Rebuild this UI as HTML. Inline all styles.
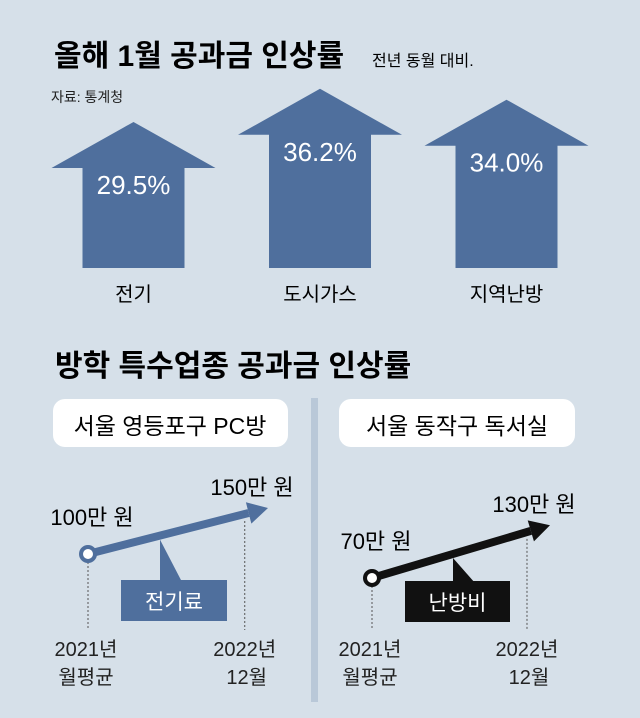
<!DOCTYPE html>
<html><head><meta charset="utf-8"><style>
html,body{margin:0;padding:0}
body{width:640px;height:713px;background:#d6e0e9;position:relative;overflow:hidden;font-family:"Liberation Sans","Noto Sans CJK KR",sans-serif;color:#111}
svg text{font-family:"Liberation Sans","Noto Sans CJK KR",sans-serif}
</style></head><body>
<svg width="640" height="713">
<rect x="0" y="0" width="640" height="713" fill="#d6e0e9"/>
<text x="54" y="66" font-size="30" font-weight="bold">올해 1월 공과금 인상률</text>
<text x="372" y="66" font-size="16">전년 동월 대비.</text>
<text x="51" y="102" font-size="14" fill="#222">자료: 통계청</text>
<g id="arrows"></g>
<text x="55" y="376" font-size="30" font-weight="bold">방학 특수업종 공과금 인상률</text>
<rect x="311" y="398" width="7" height="304" fill="#b9c8d8"/>
<rect x="53" y="399" width="235" height="48" rx="12" fill="#fff"/>
<text x="170" y="434" font-size="23" text-anchor="middle">서울 영등포구 PC방</text>
<rect x="339" y="399" width="236" height="48" rx="12" fill="#fff"/>
<text x="457" y="434" font-size="23" text-anchor="middle">서울 동작구 독서실</text>
<g id="panels"></g>
</svg>
<script>
const NS='http://www.w3.org/2000/svg';
const categories=['전기','도시가스','지역난방'];
const rates=[29.5,36.2,34.0];
const rateLabels=['29.5%','36.2%','34.0%'];
const panelNames=['pc-room','study-room'];
const startValues=[100,70];
const endValues=[150,130];
const startLabels=['100만 원','70만 원'];
const endLabels=['150만 원','130만 원'];
const itemLabels=['전기료','난방비'];
const xTicks=['2021년','2022년'];
const xSub=['월평균','12월'];
function mk(tag,attrs,parent,text){const e=document.createElementNS(NS,tag);for(const k in attrs)e.setAttribute(k,attrs[k]);if(text!=null)e.textContent=text;parent.appendChild(e);return e;}
// arrow chart
const ag=document.getElementById('arrows');
const bottomY=268, pxPer=4.95;
const yRate=v=>bottomY-v*pxPer;
const centers=[133.5,320,506.5];
categories.forEach((c,i)=>{
  const cx=centers[i], tip=yRate(rates[i]), base=tip+46;
  const p=mk('polygon',{points:`${cx},${tip} ${cx+82},${base} ${cx+51},${base} ${cx+51},${bottomY} ${cx-51},${bottomY} ${cx-51},${base} ${cx-82},${base}`,fill:'#4f6f9d'},ag);
  
  
  const t=mk('text',{x:cx,y:base+26,'font-size':26,fill:'#fff','text-anchor':'middle'},ag,rateLabels[i]);
  
  
  const l=mk('text',{x:cx,y:301,'font-size':20,'text-anchor':'middle'},ag,c);
  
  
});
// panels
const pg=document.getElementById('panels');
const cfg=[{x0:88,x1:268,y0:554,k:0.92,col:'#4f6f9d',box:[121,580,106,41],ptr:160},
           {x0:372,x1:550,y0:578,k:0.88,col:'#111',box:[405,581,105,41],ptr:453}];
cfg.forEach((c,i)=>{
  const ys=c.y0, ye=c.y0-(endValues[i]-startValues[i])*c.k;
  const dx=c.x1-c.x0, dy=ye-ys, len=Math.hypot(dx,dy), ux=dx/len, uy=dy/len;
  const hx=c.x1-ux*20, hy=ye-uy*20;
  const d1=mk('line',{x1:c.x0,y1:ys+8,x2:c.x0,y2:630,stroke:'#555','stroke-dasharray':'2,2'},pg);
  
  
  const d2=mk('line',{x1:hx-ux*4,y1:hy+8,x2:hx-ux*4,y2:630,stroke:'#555','stroke-dasharray':'2,2'},pg);
  
  
  const sh=mk('line',{x1:c.x0,y1:ys,x2:hx,y2:hy,stroke:c.col,'stroke-width':8},pg);
  
  
  const h=mk('polygon',{points:`${c.x1},${ye} ${hx-uy*11},${hy+ux*11} ${hx+uy*11},${hy-ux*11}`,fill:c.col},pg);
  
  
  const ci=mk('circle',{cx:c.x0,cy:ys,r:7,fill:'#fff',stroke:c.col,'stroke-width':4},pg);
  
  
  const s=mk('text',{x:c.x0+4,y:ys-29,'font-size':22,'text-anchor':'middle'},pg,startLabels[i]);
  
  
  const e=mk('text',{x:c.x1-16,y:ye-13,'font-size':22,'text-anchor':'middle'},pg,endLabels[i]);
  
  
  const b=c.box;
  const py=ys+(c.ptr-c.x0)*dy/dx;
  const pt=mk('polygon',{points:`${c.ptr},${py+4} ${c.ptr+22},${b[1]+2} ${c.ptr},${b[1]+2}`,fill:c.col},pg);
  
  
  const r=mk('rect',{x:b[0],y:b[1],width:b[2],height:b[3],fill:c.col},pg);
  
  
  const tl=mk('text',{x:b[0]+b[2]/2,y:b[1]+29,'font-size':21,fill:'#fff','text-anchor':'middle'},pg,itemLabels[i]);
  
  
  [c.x0-2, hx-ux*4].forEach((x,j)=>{
    const a=mk('text',{x:x,y:656,'font-size':20,'text-anchor':'middle',fill:'#222'},pg,xTicks[j]);
    
    
    const bb=mk('text',{x:x+(j?2:0),y:684,'font-size':20,'text-anchor':'middle',fill:'#222'},pg,xSub[j]);
    
    
  });
});
</script>
</body></html>
